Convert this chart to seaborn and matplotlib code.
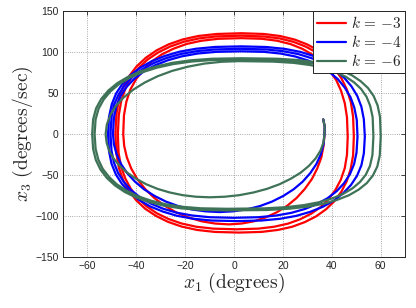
import matplotlib
matplotlib.use("Agg")
import matplotlib.pyplot as plt
import pandas as pd
import seaborn as sns

# trajectories (x1 in degrees, x3 in degrees/sec),
# one line of the lists per quarter turn
RED_X1 = [36.5, 37.1, 37.0,
          36.6, 35.7, 34.0, 31.8, 28.9, 25.6, 21.8, 17.5, 12.9, 8.1, 3.1, -2.0,
          -7.7, -13.2, -18.6, -23.7, -28.4, -32.6, -36.3, -39.5, -42.0, -43.8, -44.9, -45.3,
          -45.0, -44.0, -42.4, -40.0, -37.1, -33.6, -29.5, -24.7, -19.4, -13.4, -6.5, 3.0,
          11.5, 17.7, 23.2, 28.0, 32.2, 36.0, 39.1, 41.8, 43.8, 45.3, 46.2, 46.5,
          46.2, 45.3, 43.7, 41.5, 38.8, 35.5, 31.6, 27.1, 22.1, 16.4, 9.9, 1.0,
          -8.5, -15.4, -21.5, -26.8, -31.6, -35.8, -39.3, -42.2, -44.5, -46.2, -47.2, -47.5,
          -47.1, -46.1, -44.4, -42.0, -39.0, -35.3, -30.9, -26.0, -20.4, -14.1, -6.9, 3.0,
          12.0, 18.6, 24.3, 29.4, 33.9, 37.9, 41.2, 44.0, 46.2, 47.8, 48.7, 49.0,
          48.7, 47.7, 46.1, 43.9, 41.1, 37.6, 33.6, 29.0, 23.8, 17.9, 11.2, 2.0,
          -7.9, -15.1, -21.4, -27.0, -31.9, -36.3, -40.0, -43.0, -45.4, -47.1, -48.1, -48.5,
          -48.1, -47.1, -45.4, -42.9, -39.8, -36.0, -31.6, -26.6, -20.9, -14.5, -7.1, 3.0,
          12.2, 18.9, 24.8, 30.0, 34.6, 38.6]
RED_X3 = [18.0, 9.0, 0.0,
          -14.4, -28.5, -42.1, -55.0, -67.0, -77.8, -87.2, -95.3, -101.6, -106.3, -109.0, -110.0,
          -109.0, -106.3, -101.6, -95.3, -87.2, -77.8, -67.0, -55.0, -42.1, -28.5, -14.4, 0.0,
          22.9, 39.7, 54.3, 67.2, 78.6, 88.7, 97.2, 104.2, 109.9, 113.8, 116.2, 117.0,
          116.2, 113.8, 109.7, 103.9, 96.7, 88.0, 77.6, 65.9, 52.7, 37.7, 20.5, -3.0,
          -25.1, -41.3, -55.4, -67.9, -78.9, -88.7, -96.9, -103.7, -109.1, -112.9, -115.2, -116.0,
          -115.2, -112.9, -108.9, -103.4, -96.4, -87.9, -78.0, -66.6, -53.8, -39.3, -22.7, 0.0,
          23.5, 40.7, 55.7, 68.9, 80.6, 91.0, 99.7, 106.9, 112.7, 116.8, 119.2, 120.0,
          119.1, 116.7, 112.5, 106.6, 99.2, 90.2, 79.7, 67.6, 54.1, 38.7, 21.1, -3.0,
          -25.9, -42.7, -57.3, -70.2, -81.6, -91.7, -100.2, -107.2, -112.9, -116.8, -119.2, -120.0,
          -119.2, -116.8, -112.7, -106.9, -99.7, -91.0, -80.6, -68.9, -55.7, -40.7, -23.5, 0.0,
          24.1, 41.7, 57.1, 70.6, 82.7, 93.2, 102.2, 109.6, 115.5, 119.7, 122.1, 123.0,
          122.1, 119.6, 115.3, 109.3, 101.7, 92.5]

BLUE_X1 = [36.5, 37.1, 37.0,
           36.6, 35.5, 33.7, 31.2, 28.1, 24.4, 20.2, 15.5, 10.5, 5.1, -0.4, -6.0,
           -11.7, -17.3, -22.7, -27.8, -32.5, -36.8, -40.5, -43.7, -46.2, -48.0, -49.1, -49.5,
           -49.1, -48.1, -46.3, -43.8, -40.6, -36.8, -32.3, -27.1, -21.4, -14.8, -7.3, 3.0,
           12.3, 19.1, 25.0, 30.3, 34.9, 39.0, 42.5, 45.3, 47.6, 49.2, 50.2, 50.5,
           50.1, 49.1, 47.4, 45.0, 42.0, 38.3, 33.9, 29.0, 23.4, 17.1, 9.9, 0.0,
           -9.9, -17.1, -23.4, -29.0, -33.9, -38.3, -42.0, -45.0, -47.4, -49.1, -50.1, -50.5,
           -50.1, -49.1, -47.2, -44.7, -41.5, -37.6, -33.0, -27.7, -21.8, -15.1, -7.5, 3.0,
           12.9, 20.1, 26.4, 32.0, 36.9, 41.3, 45.0, 48.0, 50.4, 52.1, 53.1, 53.5,
           53.1, 52.1, 50.3, 47.8, 44.6, 40.8, 36.3, 31.1, 25.4, 18.8, 11.3, 1.0,
           -9.3, -16.8, -23.4, -29.1, -34.3, -38.8, -42.6, -45.8, -48.3, -50.1, -51.1, -51.5,
           -51.1, -50.0, -48.2, -45.6, -42.3, -38.3, -33.6, -28.3, -22.3, -15.5, -7.7, 3.0,
           13.2, 20.6, 27.1, 32.8, 37.9, 42.4]
BLUE_X3 = [18.0, 9.0, 0.0,
           -12.4, -24.6, -36.4, -47.5, -57.9, -67.2, -75.3, -82.3, -87.8, -91.8, -94.1, -95.0,
           -94.1, -91.8, -87.8, -82.3, -75.3, -67.2, -57.9, -47.5, -36.4, -24.6, -12.4, 0.0,
           19.8, 34.2, 46.9, 58.0, 67.9, 76.6, 83.9, 90.0, 94.8, 98.3, 100.3, 101.0,
           100.3, 98.2, 94.7, 89.7, 83.4, 75.8, 66.9, 56.7, 45.3, 32.3, 17.4, -3.0,
           -22.4, -36.6, -48.9, -59.8, -69.5, -78.0, -85.3, -91.2, -96.0, -99.3, -101.3, -102.0,
           -101.3, -99.2, -95.8, -90.9, -84.8, -77.3, -68.5, -58.5, -47.3, -34.6, -20.0, 0.0,
           20.4, 35.3, 48.3, 59.7, 69.9, 78.8, 86.4, 92.7, 97.7, 101.2, 103.3, 104.0,
           103.3, 101.1, 97.5, 92.3, 85.9, 78.1, 68.9, 58.4, 46.6, 33.3, 18.0, -3.0,
           -23.2, -37.9, -50.8, -62.1, -72.2, -81.1, -88.6, -94.8, -99.7, -103.2, -105.3, -106.0,
           -105.3, -103.1, -99.5, -94.4, -88.1, -80.3, -71.2, -60.8, -49.2, -35.9, -20.8, 0.0,
           21.0, 36.3, 49.6, 61.4, 71.9, 81.1, 88.9, 95.3, 100.5, 104.1, 106.3, 107.0,
           106.2, 104.0, 100.3, 95.0, 88.4, 80.4]

GREEN_X1 = [36.5, 37.1, 37.0,
            36.6, 35.4, 33.4, 30.7, 27.3, 23.2, 18.6, 13.5, 8.0, 2.2, -3.8, -10.0,
            -15.6, -21.0, -26.3, -31.3, -35.9, -40.0, -43.7, -46.8, -49.3, -51.1, -52.1, -52.5,
            -52.0, -50.6, -48.4, -45.2, -41.2, -36.5, -31.2, -25.3, -18.9, -12.1, -5.1, 2.0,
            16.1, 24.3, 31.0, 36.7, 41.5, 45.7, 49.1, 52.0, 54.2, 55.7, 56.7, 57.0,
            56.6, 55.6, 53.9, 51.5, 48.4, 44.6, 40.1, 34.8, 28.6, 21.4, 12.4, -3.0,
            -13.6, -21.3, -28.1, -34.0, -39.3, -43.9, -47.9, -51.1, -53.7, -55.5, -56.6, -57.0,
            -56.6, -55.4, -53.3, -50.5, -46.9, -42.5, -37.3, -31.4, -24.8, -17.3, -8.8, 3.0,
            17.6, 26.1, 33.0, 38.9, 43.9, 48.3, 51.8, 54.8, 57.1, 58.7, 59.7, 60.0,
            59.6, 58.6, 56.8, 54.3, 51.0, 47.0, 42.2, 36.7, 30.2, 22.6, 13.2, -3.0,
            -13.8, -21.6, -28.5, -34.6, -40.0, -44.7, -48.7, -52.0, -54.6, -56.5, -57.6, -58.0,
            -57.6, -56.4, -54.3, -51.4, -47.7, -43.2, -38.0, -32.0, -25.3, -17.7, -9.0, 3.0,
            17.9, 26.5, 33.6, 39.5]
GREEN_X3 = [18.0, 9.0, 0.0,
            -10.1, -19.9, -29.5, -38.5, -46.9, -54.4, -61.1, -66.7, -71.1, -74.4, -76.3, -77.0,
            -76.3, -74.4, -71.1, -66.7, -61.1, -54.4, -46.9, -38.5, -29.5, -19.9, -10.1, 0.0,
            11.7, 23.1, 34.1, 44.5, 54.2, 62.9, 70.6, 77.1, 82.2, 86.0, 88.2, 89.0,
            88.4, 86.9, 84.3, 80.6, 75.8, 70.0, 63.1, 55.0, 45.5, 34.4, 20.6, -3.0,
            -25.6, -38.7, -49.4, -58.4, -66.2, -72.9, -78.4, -83.0, -86.5, -89.0, -90.5, -91.0,
            -90.4, -88.5, -85.4, -81.1, -75.6, -69.0, -61.2, -52.2, -42.2, -30.8, -17.8, 0.0,
            17.8, 30.8, 42.2, 52.2, 61.2, 69.0, 75.6, 81.1, 85.4, 88.5, 90.4, 91.0,
            90.4, 88.8, 86.2, 82.4, 77.6, 71.6, 64.5, 56.2, 46.5, 35.2, 21.2, -3.0,
            -26.1, -39.5, -50.4, -59.7, -67.6, -74.5, -80.1, -84.8, -88.4, -90.9, -92.5, -93.0,
            -92.3, -90.5, -87.3, -82.9, -77.3, -70.5, -62.5, -53.4, -43.2, -31.5, -18.2, 0.0,
            18.1, 31.4, 42.9, 53.1, 62.2, 70.1, 76.9, 82.4, 86.9, 90.0, 91.9, 92.5,
            91.9, 90.3, 87.6, 83.8]

LABELS = [r"$k\,=\,{-3}$", r"$k\,=\,{-4}$", r"$k\,=\,{-6}$"]
COLORS = ["#ff0000", "#0000ff", "#3f7358"]
X_TICKS = [-60, -40, -20, 0, 20, 40, 60]
Y_TICKS = [-150, -100, -50, 0, 50, 100, 150]

sns.set_style("white")
plt.rcParams.update({
    "font.family": ["Liberation Sans", "DejaVu Sans"],
    "mathtext.fontset": "cm",
    "axes.edgecolor": "#262626",
    "axes.linewidth": 0.7,
})


def build_frame() -> pd.DataFrame:
    parts = []
    for label, xs, ys in zip(LABELS,
                             [RED_X1, BLUE_X1, GREEN_X1],
                             [RED_X3, BLUE_X3, GREEN_X3]):
        parts.append(pd.DataFrame({"x1": xs, "x3": ys, "k": label}))
    return pd.concat(parts, ignore_index=True)


def main() -> None:
    df = build_frame()

    fig = plt.figure(figsize=(4.16, 3.08), dpi=100)
    ax = fig.add_axes([0.151, 0.165, 0.823, 0.799])

    sns.lineplot(data=df, x="x1", y="x3", hue="k", hue_order=LABELS,
                 palette=dict(zip(LABELS, COLORS)), sort=False,
                 estimator=None, lw=1.6, ax=ax)

    ax.set_xlim(-70, 70)
    ax.set_ylim(-150, 150)
    ax.set_xticks(X_TICKS)
    ax.set_yticks(Y_TICKS)
    ax.grid(True, ls=":", color="#8c8c8c", lw=0.6)
    ax.set_axisbelow(True)
    ax.tick_params(direction="in", top=True, right=True, length=3, width=0.6,
                   labelsize=7.5, labelcolor="#262626", pad=3)
    for s in ax.spines.values():
        s.set_visible(True)

    ax.set_xlabel(r"$x_1\ \mathrm{(degrees)}$", fontsize=14, labelpad=0)
    ax.set_ylabel(r"$x_3\ \mathrm{(degrees/sec)}$", fontsize=14, labelpad=0)

    handles, labels = ax.get_legend_handles_labels()
    leg = ax.legend(handles, labels, loc="upper right", borderaxespad=0,
                    fontsize=11, fancybox=False, framealpha=1,
                    edgecolor="#262626", handlelength=1.9, handletextpad=0.3,
                    borderpad=0.25, labelspacing=0.2)
    leg.get_frame().set_linewidth(0.7)

    fig.savefig("out.png", dpi=100)
    plt.close(fig)


if __name__ == "__main__":
    main()
